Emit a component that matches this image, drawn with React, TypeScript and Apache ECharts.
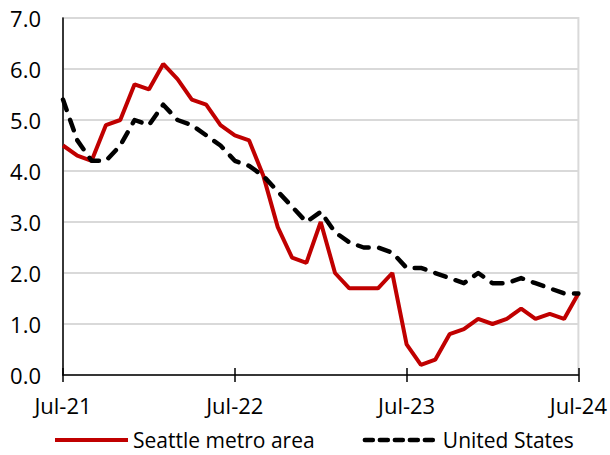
import React, { useEffect, useRef } from "react";
import * as echarts from "echarts";

const months = [
  "Jul-21","Aug-21","Sep-21","Oct-21","Nov-21","Dec-21","Jan-22","Feb-22","Mar-22","Apr-22","May-22","Jun-22",
  "Jul-22","Aug-22","Sep-22","Oct-22","Nov-22","Dec-22","Jan-23","Feb-23","Mar-23","Apr-23","May-23","Jun-23",
  "Jul-23","Aug-23","Sep-23","Oct-23","Nov-23","Dec-23","Jan-24","Feb-24","Mar-24","Apr-24","May-24","Jun-24",
  "Jul-24",
];

const seattle = [
  4.5, 4.3, 4.2, 4.9, 5.0, 5.7, 5.6, 6.1, 5.8, 5.4, 5.3, 4.9,
  4.7, 4.6, 3.9, 2.9, 2.3, 2.2, 3.0, 2.0, 1.7, 1.7, 1.7, 2.0,
  0.6, 0.2, 0.3, 0.8, 0.9, 1.1, 1.0, 1.1, 1.3, 1.1, 1.2, 1.1,
  1.6,
];

const unitedStates = [
  5.4, 4.6, 4.2, 4.2, 4.5, 5.0, 4.9, 5.3, 5.0, 4.9, 4.7, 4.5,
  4.2, 4.1, 3.9, 3.6, 3.3, 3.0, 3.2, 2.8, 2.6, 2.5, 2.5, 2.4,
  2.1, 2.1, 2.0, 1.9, 1.8, 2.0, 1.8, 1.8, 1.9, 1.8, 1.7, 1.6,
  1.6,
];

const FONT = "'Open Sans', Lato, sans-serif";

export default function App() {
  const ref = useRef<HTMLDivElement>(null);
  useEffect(() => {
    if (!ref.current) return;
    const chart = echarts.init(ref.current, undefined, { renderer: "svg" });
    const every12 = (i: number) => i % 12 === 0;
    chart.setOption({
      animation: false,
      backgroundColor: "#fff",
      grid: {
        left: 63,
        right: 31,
        top: 18,
        bottom: 80,
        show: true,
        borderColor: "#d9d9d9",
        borderWidth: 2,
      },
      legend: {
        left: 53,
        top: 429,
        padding: 0,
        itemWidth: 73,
        itemHeight: 14,
        itemGap: 48,
        itemStyle: { opacity: 0 },
        textStyle: { fontSize: 21, lineHeight: 22, color: "#000", fontFamily: FONT },
        data: [
          { name: "Seattle metro area", lineStyle: { width: 4, color: "#c00000", type: "solid" } },
          { name: "United States", lineStyle: { width: 4.5, color: "#000", type: [8, 7], cap: "round" } },
        ],
      },
      xAxis: [
        {
          type: "category",
          data: months,
          boundaryGap: false,
          axisLine: { lineStyle: { color: "#000", width: 1.5 } },
          axisTick: { show: true, interval: every12, length: 7, lineStyle: { color: "#000", width: 1.5 } },
          axisLabel: {
            interval: every12,
            margin: 19,
            fontSize: 22,
            color: "#000",
            fontFamily: FONT,
          },
          splitLine: { show: false },
        },
        {
          type: "category",
          data: months,
          boundaryGap: false,
          position: "bottom",
          axisLine: { show: false },
          axisTick: { show: true, inside: true, interval: every12, length: 7, lineStyle: { color: "#000", width: 1.5 } },
          axisLabel: { show: false },
          splitLine: { show: false },
        },
      ],
      yAxis: {
        type: "value",
        min: 0,
        max: 7,
        interval: 1,
        axisLine: { show: true, lineStyle: { color: "#000", width: 1.5 } },
        axisTick: { show: false },
        axisLabel: {
          formatter: (v: number) => v.toFixed(1),
          margin: 22,
          fontSize: 22,
          color: "#000",
          fontFamily: FONT,
        },
        splitLine: { lineStyle: { color: "#d9d9d9", width: 2 } },
      },
      series: [
        {
          name: "Seattle metro area",
          type: "line",
          data: seattle,
          symbol: "none",
          lineStyle: { color: "#c00000", width: 4 },
          itemStyle: { color: "#c00000" },
        },
        {
          name: "United States",
          type: "line",
          data: unitedStates,
          symbol: "none",
          lineStyle: { color: "#000", width: 4.5, type: [11, 10.5], cap: "round", join: "round" },
          itemStyle: { color: "#000" },
        },
      ],
    });
    return () => chart.dispose();
  }, []);
  return <div ref={ref} style={{ width: 610, height: 455, position: "absolute", left: 0, top: 0 }} />;
}
